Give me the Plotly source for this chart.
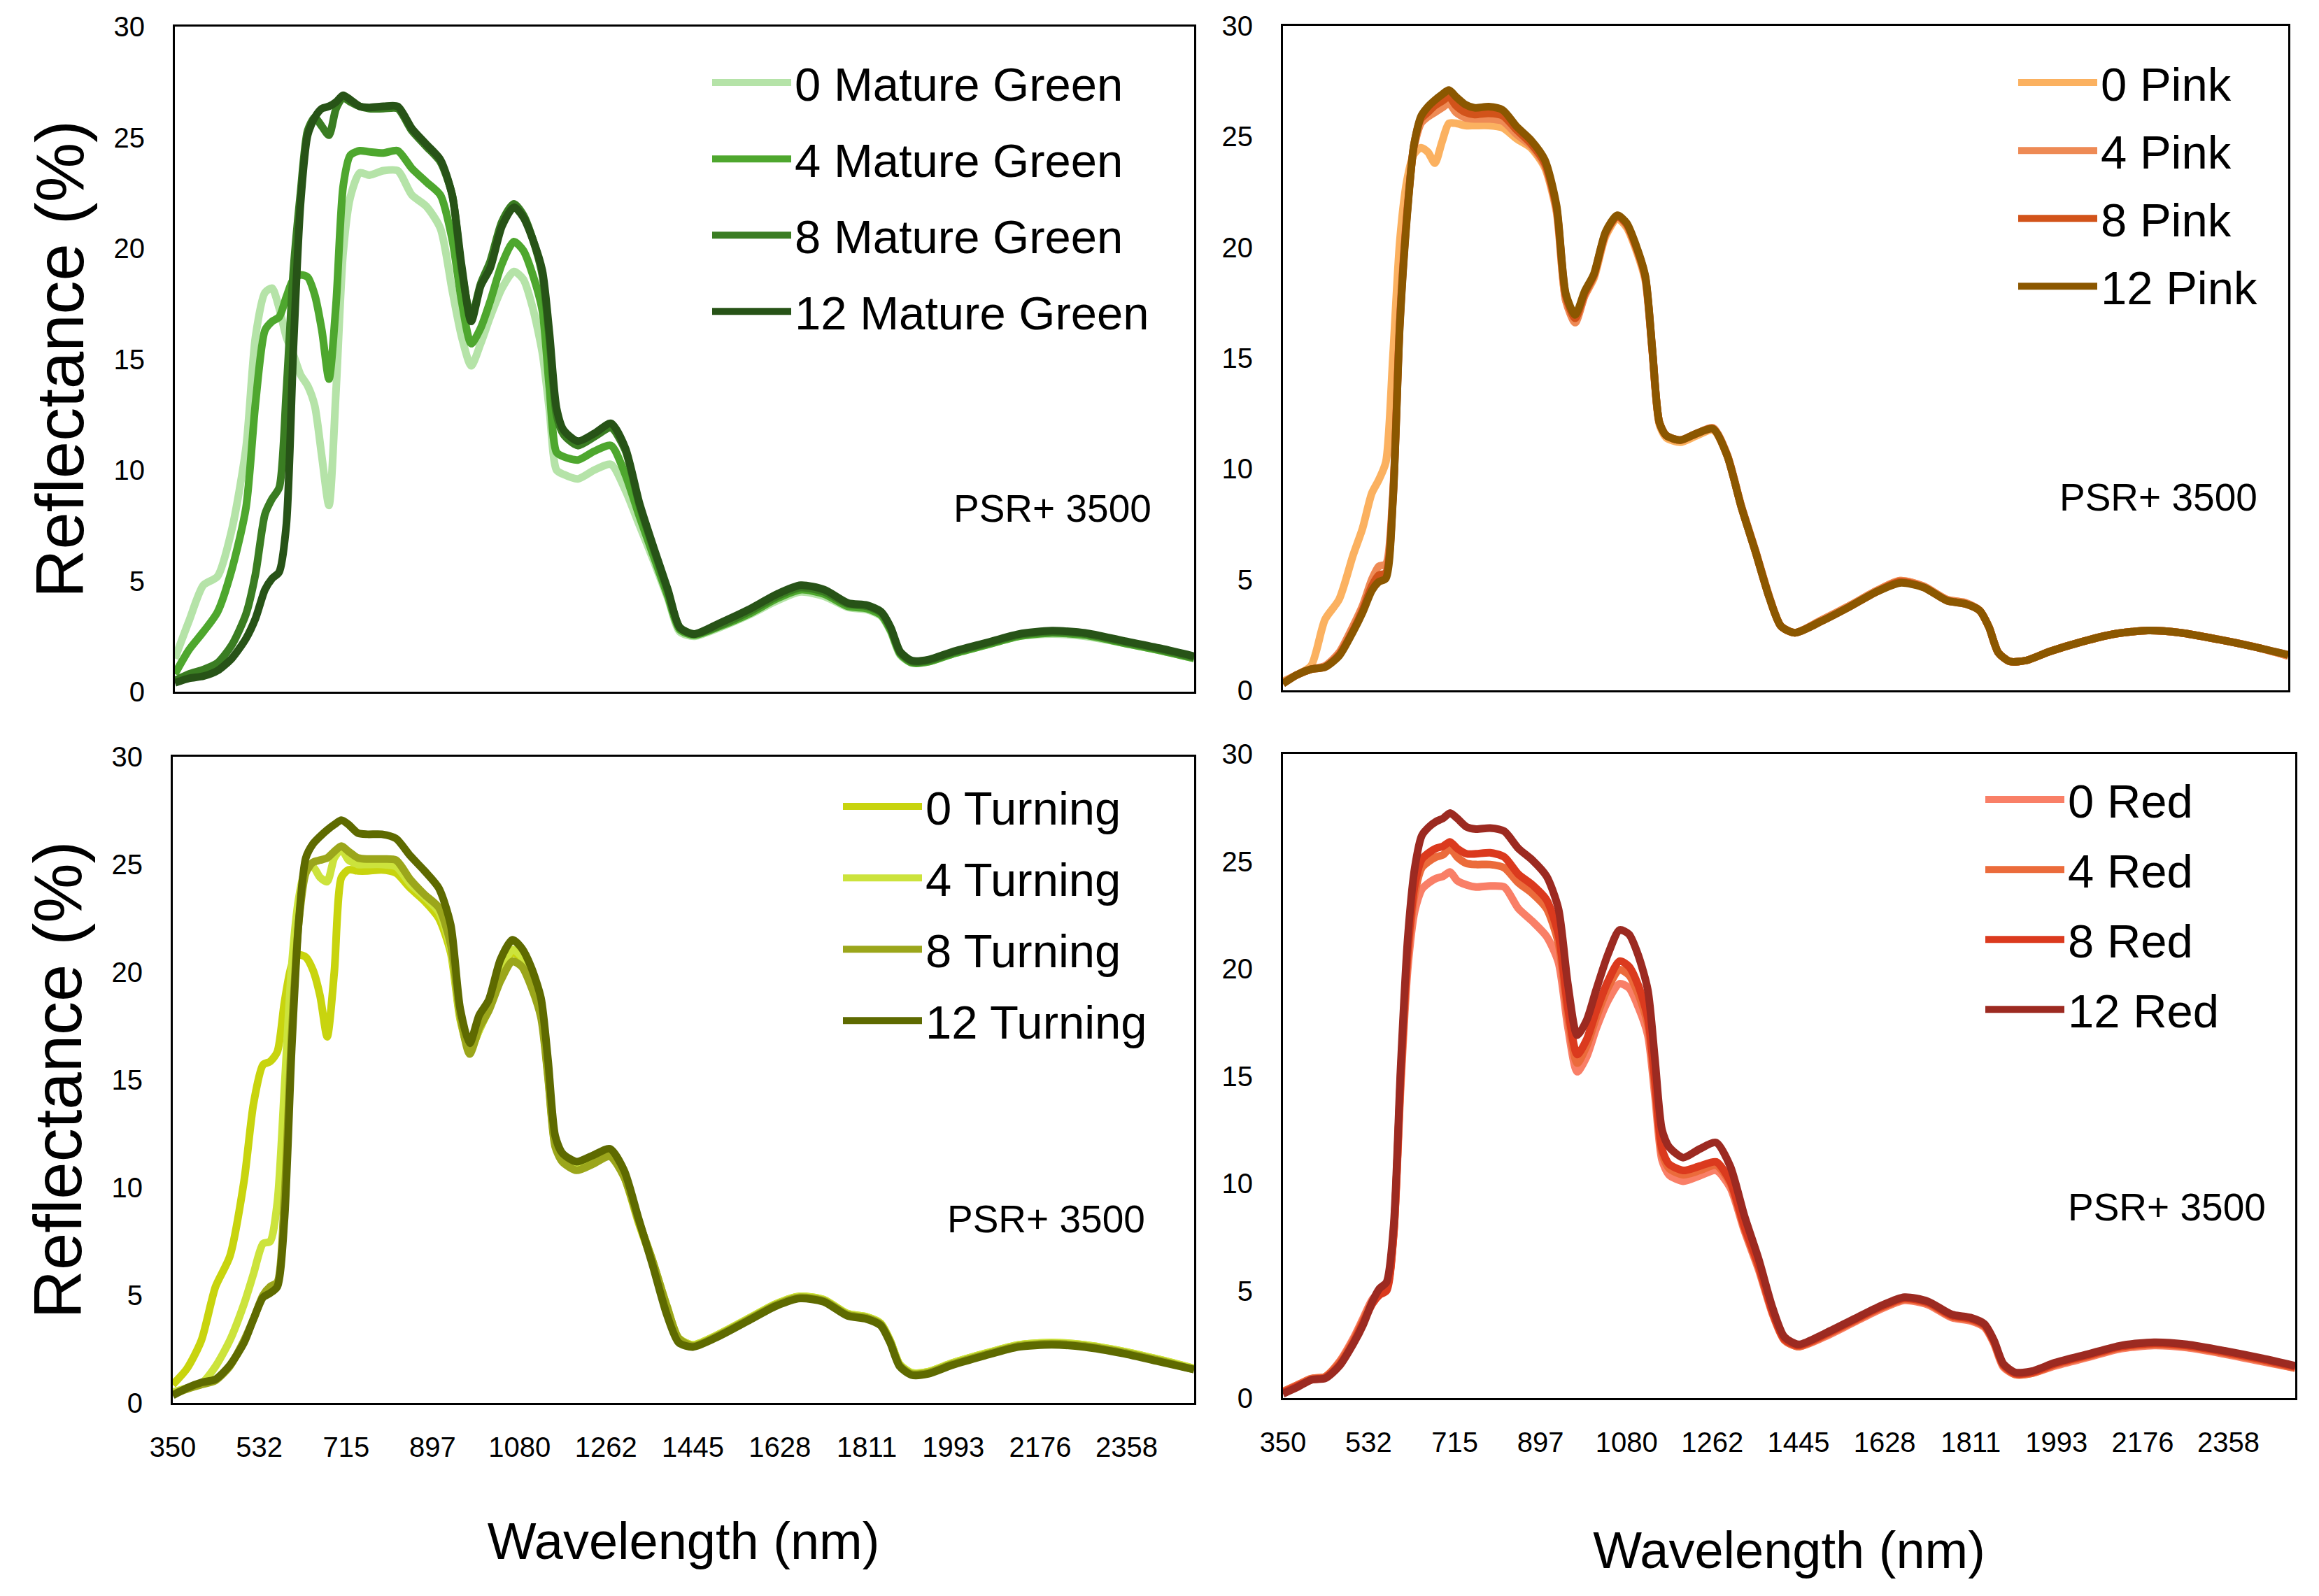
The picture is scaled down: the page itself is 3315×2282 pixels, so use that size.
import plotly.graph_objects as go

# wavelength grid (nm) shared by every series
wavelength = [350, 380, 410, 440, 470, 500, 520, 540, 555, 570,
              585, 600, 615, 630, 645, 660, 675, 690, 705, 720,
              740, 760, 790, 820, 850, 880, 910, 935, 955, 975,
              995, 1015, 1040, 1065, 1085, 1105, 1125, 1140, 1155, 1170,
              1200, 1235, 1270, 1300, 1330, 1360, 1390, 1415, 1445, 1500,
              1560, 1620, 1670, 1720, 1770, 1810, 1840, 1860, 1880, 1905,
              1940, 1990, 2060, 2130, 2200, 2270, 2350, 2430, 2500]

x_ticks = [350, 532, 715, 897, 1080, 1262, 1445, 1628, 1811, 1993, 2176, 2358]
y_ticks = [0, 5, 10, 15, 20, 25, 30]

# Mature Green
mg_0 = [1.5, 3.2, 4.8, 5.2, 7.3, 11.0, 16.0, 18.0, 18.2, 17.3,
        16.0, 15.2, 14.3, 13.8, 12.9, 10.6, 8.4, 13.6, 19.8, 22.3,
        23.4, 23.3, 23.5, 23.5, 22.4, 21.9, 20.9, 18.1, 16.0, 14.7,
        15.7, 16.9, 18.2, 18.95, 18.6, 17.3, 15.3, 12.7, 10.0, 9.8,
        9.6, 10.0, 10.25, 9.1, 7.5, 5.9, 4.2, 2.7, 2.5, 2.9,
        3.45, 4.1, 4.5, 4.3, 3.8, 3.7, 3.4, 2.7, 1.65, 1.3,
        1.35, 1.7, 2.1, 2.5, 2.6, 2.5, 2.2, 1.85, 1.5]
mg_4 = [0.8, 1.9, 2.7, 3.6, 5.5, 8.3, 13.0, 16.3, 16.7, 16.9,
        17.8, 18.6, 18.8, 18.7, 17.9, 16.3, 14.1, 17.5, 22.8, 24.2,
        24.4, 24.35, 24.3, 24.4, 23.6, 23.0, 22.4, 20.4, 17.6, 15.7,
        16.4, 17.6, 19.3, 20.3, 19.9, 18.8, 17.2, 13.7, 10.8, 10.6,
        10.45, 10.85, 11.1, 9.8, 7.9, 6.1, 4.3, 2.8, 2.55, 2.95,
        3.5, 4.2, 4.6, 4.4, 3.85, 3.75, 3.45, 2.75, 1.7, 1.3,
        1.35, 1.7, 2.1, 2.5, 2.65, 2.55, 2.2, 1.85, 1.5]
mg_8 = [0.5, 0.8, 1.0, 1.3, 2.1, 3.5, 5.3, 8.0, 8.7, 9.2,
        13.5, 19.0, 22.5, 25.3, 25.9, 25.5, 25.1, 26.3, 26.8, 26.6,
        26.4, 26.3, 26.3, 26.3, 25.3, 24.6, 23.9, 22.4, 19.0, 16.9,
        18.4, 19.4, 21.2, 22.0, 21.5, 20.4, 18.8, 15.9, 12.5, 11.6,
        11.1, 11.5, 11.9, 10.9, 8.4, 6.4, 4.5, 2.9, 2.6, 3.0,
        3.6, 4.3, 4.7, 4.5, 3.95, 3.85, 3.55, 2.85, 1.75, 1.35,
        1.4, 1.75, 2.15, 2.55, 2.7, 2.6, 2.25, 1.9, 1.55]
mg_12 = [0.4, 0.6, 0.7, 0.95, 1.5, 2.4, 3.3, 4.6, 5.1, 5.4,
         7.5, 15.5, 22.0, 25.1, 25.9, 26.3, 26.4, 26.6, 26.9, 26.7,
         26.4, 26.35, 26.4, 26.4, 25.4, 24.7, 24.0, 22.4, 19.2, 16.7,
         18.3, 19.1, 21.0, 21.85, 21.4, 20.4, 19.0, 16.2, 12.8, 11.8,
         11.3, 11.65, 12.1, 11.0, 8.5, 6.5, 4.6, 2.9, 2.6, 3.1,
         3.7, 4.4, 4.8, 4.6, 4.0, 3.9, 3.6, 2.9, 1.8, 1.4,
         1.45, 1.8, 2.2, 2.6, 2.75, 2.65, 2.3, 1.95, 1.6]

# Pink
pink_0 = [0.4, 0.7, 1.1, 3.2, 4.1, 6.1, 7.3, 8.9, 9.5, 10.3,
          15.0, 20.3, 23.0, 24.2, 24.5, 24.3, 23.8, 24.75, 25.6, 25.6,
          25.5, 25.5, 25.5, 25.4, 24.9, 24.5, 23.6, 21.6, 17.6, 16.7,
          17.8, 18.6, 20.5, 21.3, 20.9, 19.9, 18.5, 15.3, 12.0, 11.4,
          11.2, 11.5, 11.75, 10.6, 8.3, 6.3, 4.2, 2.9, 2.6, 3.15,
          3.8, 4.5, 4.95, 4.7, 4.1, 3.95, 3.6, 2.85, 1.7, 1.3,
          1.35, 1.75, 2.2, 2.55, 2.7, 2.6, 2.3, 1.95, 1.55]
pink_4 = [0.35, 0.7, 0.95, 1.1, 1.7, 2.9, 3.8, 5.0, 5.6, 5.7,
          8.8, 16.8, 21.5, 24.5, 25.6, 25.9, 26.1, 26.3, 26.5, 26.1,
          25.85, 25.8, 25.8, 25.7, 25.1, 24.6, 23.7, 21.7, 17.6, 16.6,
          17.8, 18.7, 20.6, 21.4, 21.0, 20.0, 18.6, 15.3, 12.1, 11.5,
          11.3, 11.6, 11.85, 10.65, 8.35, 6.35, 4.25, 2.9, 2.6, 3.15,
          3.8, 4.5, 4.95, 4.7, 4.1, 3.95, 3.6, 2.85, 1.7, 1.3,
          1.35, 1.75, 2.2, 2.55, 2.7, 2.6, 2.3, 1.95, 1.55]
pink_8 = [0.3, 0.7, 0.95, 1.05, 1.6, 2.7, 3.6, 4.7, 5.2, 5.3,
          8.6, 16.6, 21.4, 24.6, 25.8, 26.1, 26.4, 26.6, 26.8, 26.4,
          26.1, 26.0, 26.05, 25.95, 25.3, 24.7, 23.8, 21.8, 17.8, 16.8,
          17.9, 18.75, 20.65, 21.4, 21.05, 20.05, 18.65, 15.35, 12.1, 11.5,
          11.3, 11.6, 11.8, 10.6, 8.3, 6.3, 4.2, 2.9, 2.6, 3.1,
          3.75, 4.45, 4.9, 4.65, 4.05, 3.9, 3.6, 2.85, 1.7, 1.3,
          1.35, 1.75, 2.2, 2.55, 2.7, 2.6, 2.3, 1.95, 1.6]
pink_12 = [0.3, 0.7, 0.95, 1.05, 1.55, 2.65, 3.5, 4.5, 4.9, 5.05,
           8.5, 16.5, 21.3, 24.6, 25.9, 26.35, 26.65, 26.9, 27.1, 26.8,
           26.45, 26.3, 26.35, 26.2, 25.45, 24.85, 23.95, 21.9, 17.9, 16.95,
           18.0, 18.8, 20.7, 21.45, 21.1, 20.1, 18.7, 15.4, 12.1, 11.5,
           11.3, 11.6, 11.8, 10.6, 8.3, 6.3, 4.2, 2.9, 2.6, 3.1,
           3.75, 4.45, 4.85, 4.65, 4.05, 3.9, 3.6, 2.85, 1.7, 1.3,
           1.35, 1.75, 2.2, 2.55, 2.7, 2.6, 2.3, 1.95, 1.6]

# Turning
turn_0 = [0.85, 1.6, 2.9, 5.4, 6.8, 10.3, 13.9, 15.7, 15.85, 16.3,
          18.6, 20.3, 20.8, 20.7, 20.1, 18.9, 17.0, 20.0, 24.4, 24.75,
          24.7, 24.7, 24.75, 24.6, 23.9, 23.3, 22.5, 20.9, 17.8, 16.4,
          17.3, 18.3, 19.9, 20.9, 20.6, 19.6, 18.1, 15.2, 12.0, 11.3,
          10.9, 11.2, 11.5, 10.5, 8.4, 6.5, 4.4, 3.0, 2.7, 3.2,
          3.9, 4.6, 4.95, 4.8, 4.15, 4.0, 3.7, 2.9, 1.8, 1.4,
          1.45, 1.85, 2.3, 2.7, 2.8, 2.7, 2.4, 2.0, 1.6]
turn_4 = [0.5, 0.7, 0.9, 1.7, 2.9, 4.6, 6.0, 7.4, 7.5, 9.3,
          14.6, 20.2, 23.4, 24.8, 24.9, 24.4, 24.2, 25.3, 25.7, 25.2,
          25.0, 25.0, 25.0, 24.9, 24.1, 23.5, 22.8, 21.1, 17.9, 16.4,
          17.3, 18.3, 20.0, 21.05, 20.7, 19.7, 18.2, 15.3, 12.1, 11.4,
          11.0, 11.3, 11.6, 10.6, 8.5, 6.6, 4.5, 3.0, 2.7, 3.2,
          3.9, 4.6, 4.95, 4.8, 4.15, 4.0, 3.7, 2.9, 1.8, 1.4,
          1.45, 1.85, 2.3, 2.7, 2.8, 2.7, 2.4, 2.0, 1.6]
turn_8 = [0.4, 0.65, 0.85, 1.05, 1.7, 2.9, 3.9, 5.0, 5.4, 5.6,
          9.5, 17.0, 22.3, 24.6, 25.1, 25.2, 25.3, 25.6, 25.85, 25.6,
          25.3, 25.25, 25.25, 25.2, 24.3, 23.6, 23.0, 21.3, 18.0, 16.2,
          17.4, 18.2, 19.6, 20.5, 20.25, 19.3, 17.9, 15.1, 11.9, 11.2,
          10.8, 11.1, 11.45, 10.5, 8.5, 6.6, 4.5, 3.0, 2.65, 3.15,
          3.85, 4.55, 4.9, 4.75, 4.1, 3.95, 3.65, 2.85, 1.75, 1.35,
          1.4, 1.8, 2.25, 2.65, 2.75, 2.65, 2.35, 1.95, 1.55]
turn_12 = [0.35, 0.7, 0.95, 1.1, 1.75, 2.8, 3.9, 4.9, 5.1, 5.4,
           8.5, 16.3, 22.3, 25.3, 25.95, 26.3, 26.6, 26.85, 27.05, 26.85,
           26.45, 26.4, 26.4, 26.2, 25.4, 24.7, 23.9, 22.2, 18.3, 16.7,
           18.0, 18.7, 20.6, 21.5, 21.1, 20.2, 18.8, 15.9, 12.4, 11.6,
           11.2, 11.5, 11.8, 10.8, 8.6, 6.4, 4.1, 2.8, 2.6, 3.1,
           3.8, 4.5, 4.85, 4.7, 4.05, 3.9, 3.6, 2.8, 1.7, 1.3,
           1.35, 1.75, 2.2, 2.6, 2.7, 2.6, 2.3, 1.9, 1.55]

# Red
red_0 = [0.3, 0.6, 0.9, 1.0, 1.7, 2.8, 3.7, 4.6, 4.9, 5.1,
         7.6, 14.5, 20.0, 22.7, 23.7, 24.0, 24.2, 24.3, 24.5, 24.1,
         23.9, 23.8, 23.85, 23.8, 22.8, 22.2, 21.5, 20.3, 17.3, 15.2,
         15.9, 17.2, 18.5, 19.3, 19.1, 18.2, 16.9, 14.1, 11.1, 10.4,
         10.1, 10.35, 10.6, 9.8, 7.8, 6.0, 3.9, 2.7, 2.4, 2.85,
         3.5, 4.15, 4.55, 4.35, 3.75, 3.6, 3.3, 2.55, 1.45, 1.1,
         1.15, 1.5, 1.9, 2.3, 2.45, 2.35, 2.05, 1.7, 1.4]
red_4 = [0.3, 0.6, 0.9, 1.0, 1.65, 2.7, 3.6, 4.5, 4.9, 5.1,
         7.7, 14.8, 20.5, 23.5, 24.7, 25.0, 25.2, 25.3, 25.6, 25.2,
         24.9, 24.85, 24.85, 24.7, 24.0, 23.5, 22.8, 21.2, 17.8, 15.6,
         16.4, 17.7, 19.1, 19.95, 19.7, 18.8, 17.4, 14.5, 11.4, 10.7,
         10.4, 10.6, 10.85, 10.0, 7.9, 6.1, 3.95, 2.7, 2.4, 2.9,
         3.55, 4.2, 4.6, 4.4, 3.8, 3.65, 3.35, 2.6, 1.5, 1.1,
         1.15, 1.55, 1.95, 2.35, 2.5, 2.4, 2.1, 1.75, 1.4]
red_8 = [0.25, 0.55, 0.85, 0.95, 1.55, 2.6, 3.5, 4.4, 4.8, 5.0,
         7.6, 15.0, 20.8, 23.9, 25.1, 25.4, 25.6, 25.7, 25.9, 25.6,
         25.35, 25.35, 25.4, 25.2, 24.4, 23.9, 23.2, 21.6, 18.2, 16.0,
         16.7, 18.0, 19.4, 20.35, 20.1, 19.2, 17.7, 14.8, 11.6, 10.9,
         10.6, 10.8, 11.0, 10.1, 8.0, 6.2, 4.0, 2.75, 2.45, 2.95,
         3.6, 4.25, 4.65, 4.45, 3.85, 3.7, 3.4, 2.65, 1.55, 1.15,
         1.2, 1.6, 2.0, 2.4, 2.55, 2.45, 2.15, 1.8, 1.45]
red_12 = [0.2, 0.5, 0.85, 0.92, 1.5, 2.55, 3.4, 4.5, 5.1, 5.4,
          8.0, 15.4, 21.4, 24.7, 26.2, 26.6, 26.85, 27.0, 27.25, 27.0,
          26.6, 26.5, 26.55, 26.4, 25.6, 25.05, 24.3, 22.8, 19.3, 16.9,
          17.6, 19.0, 20.65, 21.8, 21.6, 20.6, 19.0, 15.8, 12.5, 11.7,
          11.2, 11.6, 11.9, 10.8, 8.5, 6.5, 4.2, 2.85, 2.5, 3.0,
          3.65, 4.3, 4.7, 4.5, 3.9, 3.75, 3.45, 2.7, 1.6, 1.2,
          1.25, 1.65, 2.05, 2.45, 2.6, 2.5, 2.2, 1.85, 1.5]

FONT = "Liberation Sans, Arial, sans-serif"
W, H = 3315, 2282
OFF = 8  # page offset of the plot div

panels = [
    dict(ax="1", legend="legend", gap=19,
         series=[("0 Mature Green", mg_0, "#b5e3a8"), ("4 Mature Green", mg_4, "#4ea72e"),
                 ("8 Mature Green", mg_8, "#3a7d22"), ("12 Mature Green", mg_12, "#275317")],
         box=(250, 1707, 38, 989), leg=(1005, 60), note=(0.861, 0.276),
         bottom=False, left=True, xstand=88),
    dict(ax="2", legend="legend2", gap=7,
         series=[("0 Pink", pink_0, "#fbb160"), ("4 Pink", pink_4, "#ee8a55"),
                 ("8 Pink", pink_8, "#d2531a"), ("12 Pink", pink_12, "#8b5700")],
         box=(1834, 3271, 37, 987), leg=(2872, 60), note=(0.871, 0.291),
         bottom=False, left=False, xstand=108),
    dict(ax="3", legend="legend3", gap=12,
         series=[("0 Turning", turn_0, "#c8d40e"), ("4 Turning", turn_4, "#cce33c"),
                 ("8 Turning", turn_8, "#9ba61b"), ("12 Turning", turn_12, "#5e6a00")],
         box=(247, 1707, 1082, 2006), leg=(1192, 1095), note=(0.855, 0.285),
         bottom=True, left=True, xstand=88),
    dict(ax="4", legend="legend4", gap=10,
         series=[("0 Red", red_0, "#f97f67"), ("4 Red", red_4, "#eb6b3b"),
                 ("8 Red", red_8, "#db3a1e"), ("12 Red", red_12, "#9c2a21")],
         box=(1834, 3281, 1078, 1999), leg=(2825, 1085), note=(0.873, 0.296),
         bottom=True, left=False, xstand=108),
]

fig = go.Figure()
layout = dict(width=W, height=H, margin=dict(l=0, r=0, t=0, b=0),
              paper_bgcolor="white", plot_bgcolor="white",
              font=dict(family=FONT, color="black"), annotations=[])

for p in panels:
    n = p["ax"]
    xa = "x" if n == "1" else "x" + n
    ya = "y" if n == "1" else "y" + n
    for name, vals, color in p["series"]:
        fig.add_trace(go.Scatter(x=wavelength, y=vals, name=name, mode="lines",
                                 line=dict(color=color, width=11, shape="spline", smoothing=0.7),
                                 xaxis=xa, yaxis=ya, legend=p["legend"], legendgroup=name))
    x0, x1, y0, y1 = [v - OFF for v in p["box"]]
    xkey = "xaxis" if n == "1" else "xaxis" + n
    ykey = "yaxis" if n == "1" else "yaxis" + n
    layout[xkey] = dict(domain=[x0 / W, x1 / W], range=[350, 2500], anchor=ya,
                        tickvals=x_ticks, ticktext=[str(t) for t in x_ticks],
                        showticklabels=p["bottom"], ticks="", showgrid=False, zeroline=False,
                        showline=True, mirror=True, linecolor="black", linewidth=3,
                        tickfont=dict(size=40, family=FONT, color="black"),
                        ticklabelstandoff=26, automargin=False)
    if p["bottom"]:
        layout[xkey]["title"] = dict(text="Wavelength (nm)", standoff=p["xstand"],
                                     font=dict(size=74, family=FONT, color="black"))
    layout[ykey] = dict(domain=[1 - y1 / H, 1 - y0 / H], range=[0, 30], anchor=xa,
                        tickvals=y_ticks, ticks="", showgrid=False, zeroline=False,
                        showline=True, mirror=True, linecolor="black", linewidth=3,
                        tickfont=dict(size=40, family=FONT, color="black"),
                        ticklabelstandoff=32, automargin=False)
    if p["left"]:
        layout[ykey]["title"] = dict(text="Reflectance (%)", standoff=11,
                                     font=dict(size=96, family=FONT, color="black"))
    lx, ly = p["leg"]
    layout[p["legend"]] = dict(x=lx / W, y=1 - ly / H, xanchor="left", yanchor="top",
                               bgcolor="rgba(0,0,0,0)", itemwidth=113,
                               traceorder="grouped", tracegroupgap=p["gap"],
                               font=dict(size=67, family=FONT, color="black"))
    layout["annotations"].append(dict(text="PSR+ 3500", x=p["note"][0], y=p["note"][1],
                                      xref=xa + " domain", yref=ya + " domain",
                                      showarrow=False, xanchor="center", yanchor="middle",
                                      font=dict(size=55, family=FONT, color="black")))

fig.update_layout(**layout)
fig.write_html("out.html")
